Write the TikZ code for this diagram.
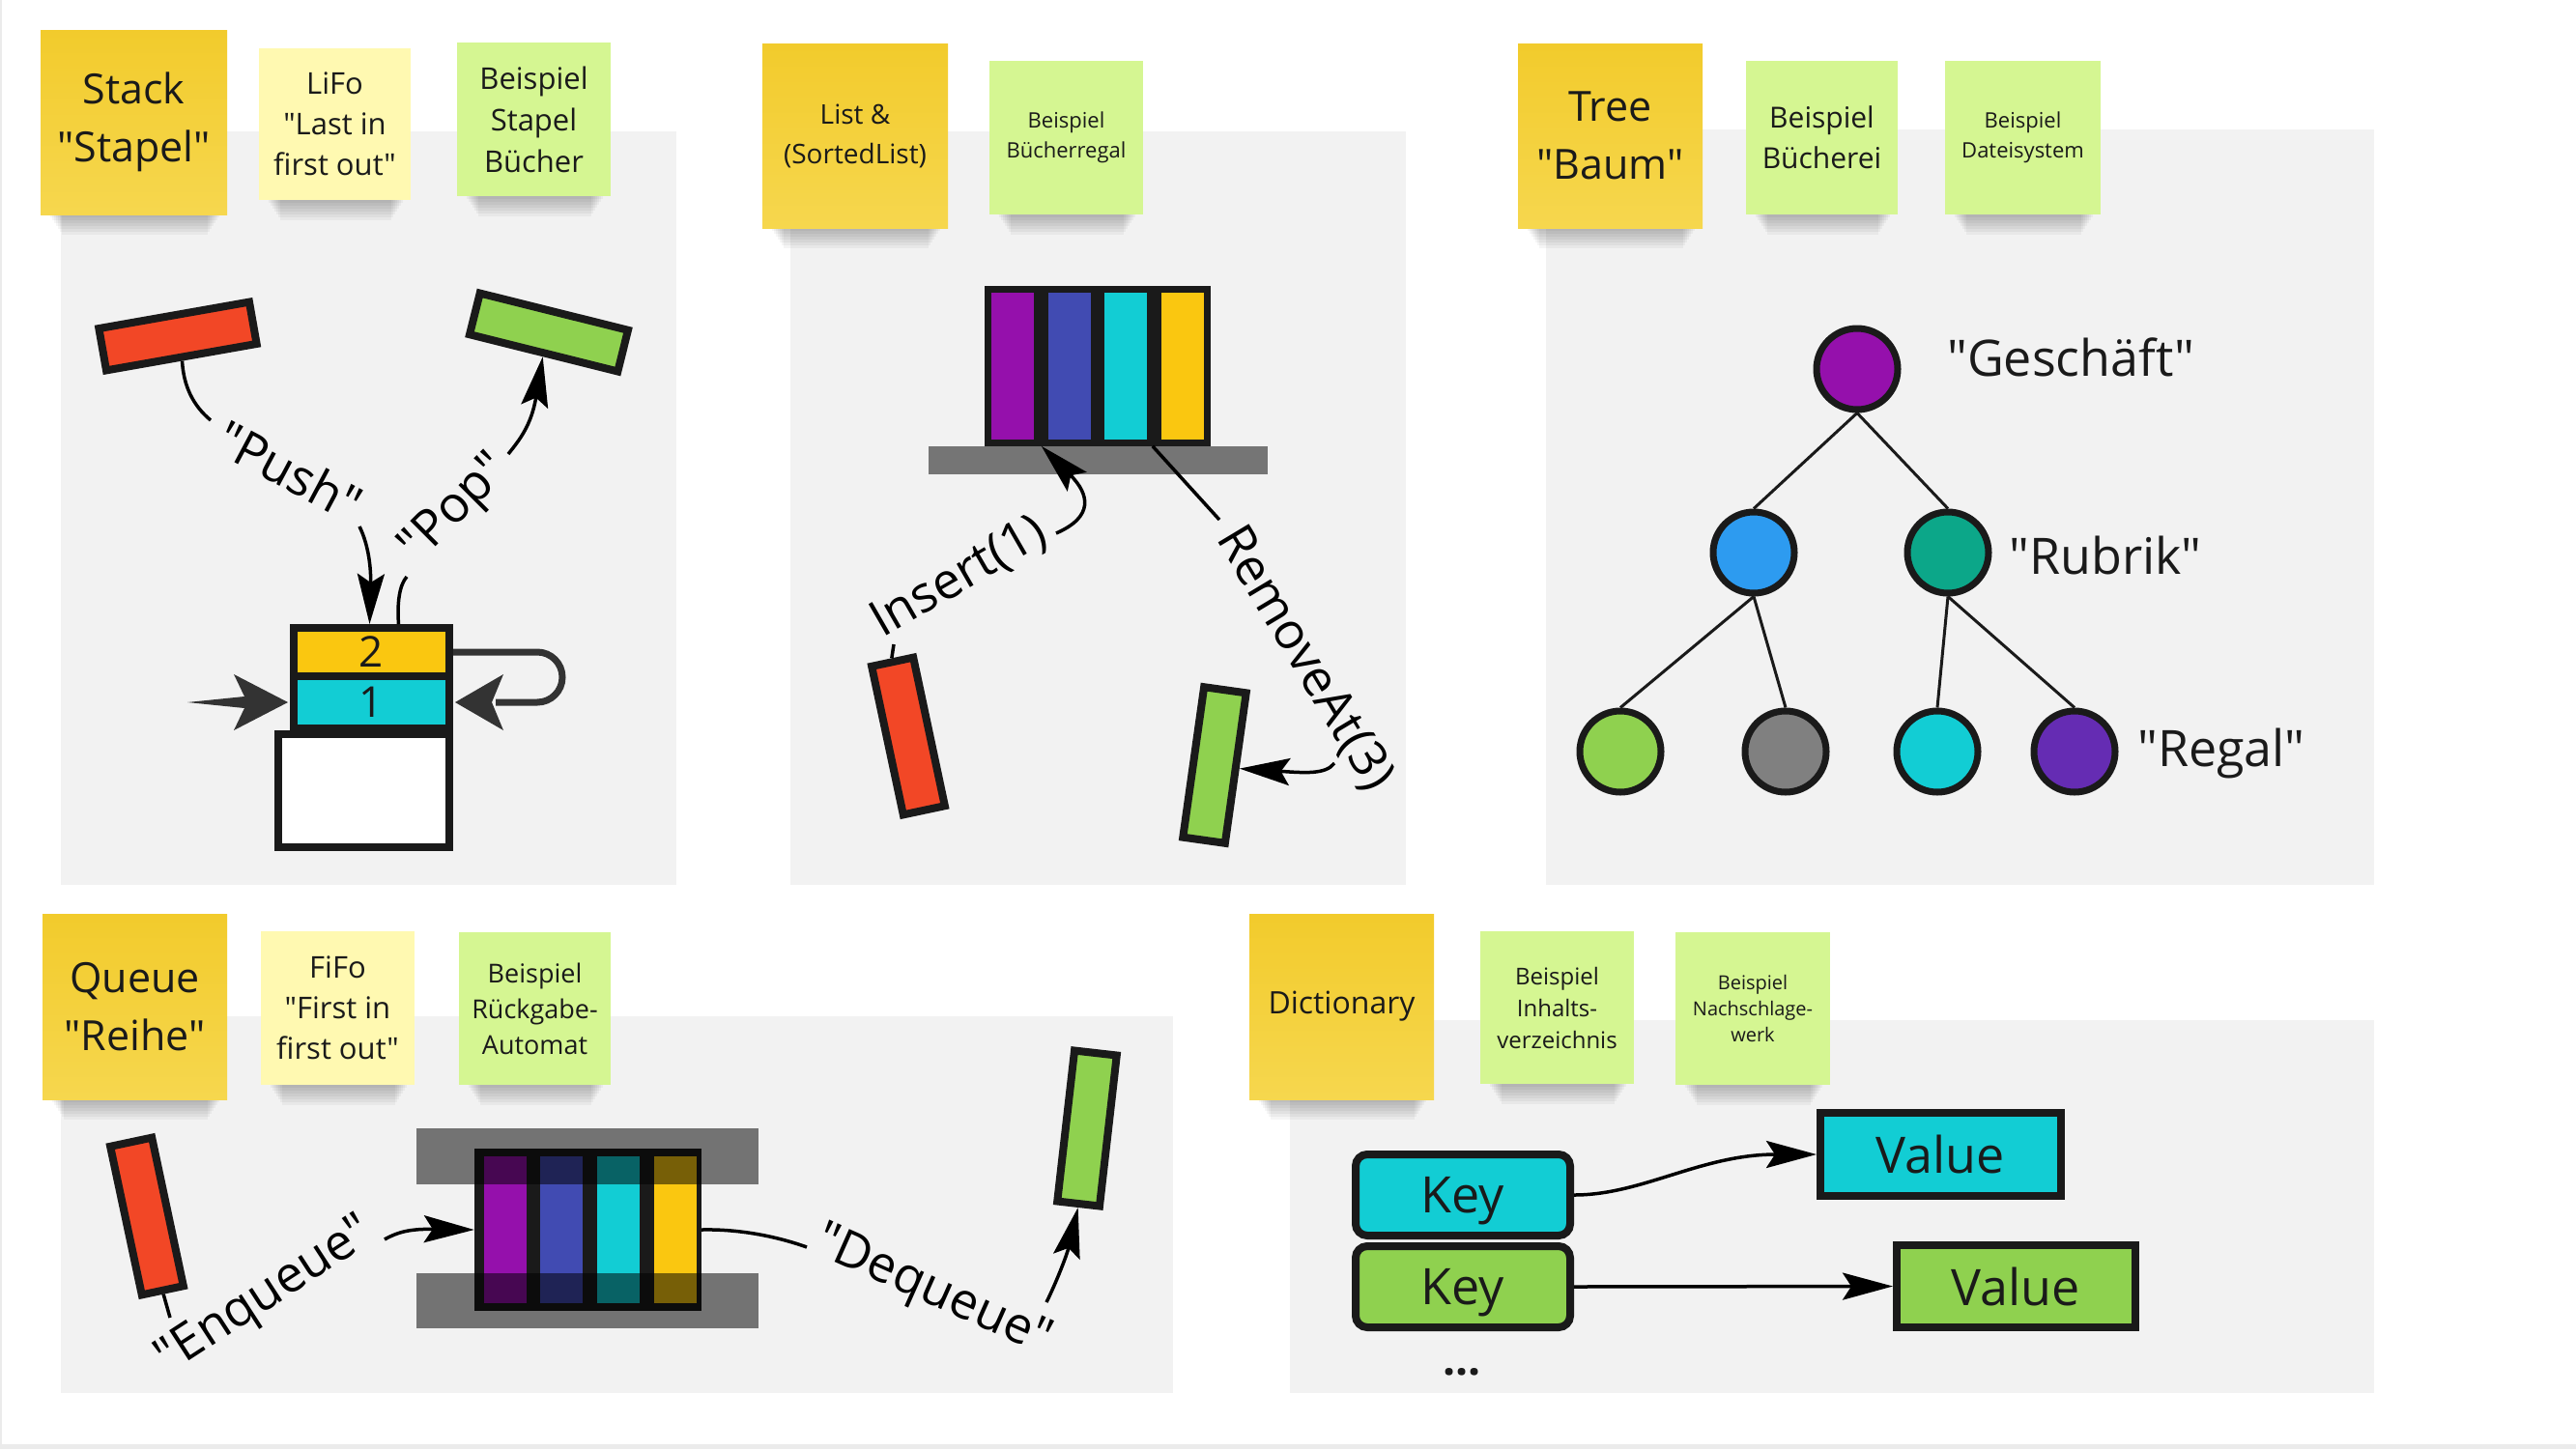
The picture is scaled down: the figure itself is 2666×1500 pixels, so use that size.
\documentclass[tikz,border=0pt]{standalone}
\usepackage{fontspec}
\setmainfont{Open Sans}[Ligatures=TeXOff]
\usetikzlibrary{arrows.meta,calc}
\definecolor{ink}{HTML}{1A1A1A}
\definecolor{panel}{HTML}{F2F2F2}
\definecolor{styeltop}{HTML}{F2CB2C}
\definecolor{styelbot}{HTML}{F6D74E}
\definecolor{stlight}{HTML}{FFF9B1}
\definecolor{stgreen}{HTML}{D5F692}
\definecolor{cred}{HTML}{F24726}
\definecolor{cgreen}{HTML}{8FD14F}
\definecolor{cyel}{HTML}{FAC710}
\definecolor{ccyan}{HTML}{12CDD4}
\definecolor{cpurple}{HTML}{9510AC}
\definecolor{cblue}{HTML}{414BB2}
\definecolor{cteal}{HTML}{0CA789}
\definecolor{cgrey}{HTML}{808080}
\definecolor{cviolet}{HTML}{652CB3}
\definecolor{cazure}{HTML}{2D9BF0}
\definecolor{shelfgrey}{HTML}{757575}
\definecolor{darkarrow}{HTML}{333333}
\definecolor{edgegrey}{HTML}{EBEBEB}
\newcommand{\stickyshadow}[3]{%
  \foreach \i in {1,...,7}{\fill[black,opacity=0.04] ({#1+8+2*\i},{#3-15}) rectangle ({#2-6-2*\i},{#3+3*\i});}}
\tikzset{
  sticky/.style={inner sep=0pt, align=center, text=ink},
  styellow/.style={sticky, top color=styeltop, bottom color=styelbot},
  stly/.style={sticky, fill=stlight},
  stgr/.style={sticky, fill=stgreen},
  vbar/.style={draw=ink, line width=8pt, inner sep=0pt, minimum width=44pt, minimum height=157pt},
  hbar/.style={draw=ink, line width=8pt, inner sep=0pt, minimum width=158pt, minimum height=44pt},
  stbox/.style={draw=ink, line width=8pt, inner sep=0pt, text=ink, text depth=0pt, font=\fontsize{44}{50}\selectfont},
  book/.style={inner sep=0pt, minimum width=44pt, minimum height=152pt},
  tnode/.style={circle, draw=ink, line width=7pt, minimum size=84pt, inner sep=0pt},
  tedge/.style={draw=ink, line width=3pt},
  keybox/.style={draw=ink, line width=8pt, rounded corners=12pt, minimum width=222pt, minimum height=84pt, inner sep=0pt, text=ink, text depth=0pt, font=\fontsize{52}{60}\selectfont},
  valbox/.style={draw=ink, line width=8pt, minimum width=249pt, minimum height=86pt, inner sep=0pt, text=ink, text depth=0pt, font=\fontsize{52}{60}\selectfont},
  lbl/.style={inner sep=0pt, text=black, font=\fontsize{52}{60}\selectfont},
  ln/.style={draw=black, line width=3.5pt},
  arr/.style={draw=black, line width=3.5pt, -{Stealth[length=52pt,width=28pt,inset=9pt]}},
}
\begin{document}
\begin{tikzpicture}[x=1pt,y=-1pt]
\path[use as bounding box] (0,0) rectangle (2666,1500);
\fill[white] (0,0) rectangle (2666,1500);
\fill[edgegrey] (0,1495) rectangle (2666,1500);
\fill[edgegrey] (0,0) rectangle (1.5,1495);
% panels
\fill[panel] (63,136) rectangle (700,916);
\fill[panel] (818,136) rectangle (1455,916);
\fill[panel] (1600,134) rectangle (2457,916);
\fill[panel] (63,1052) rectangle (1214,1442);
\fill[panel] (1335,1056) rectangle (2457,1442);
% shadows
\stickyshadow{42}{235}{222}
\stickyshadow{268}{425}{207}
\stickyshadow{473}{632}{203}
\stickyshadow{789}{981}{236}
\stickyshadow{1024}{1183}{222}
\stickyshadow{1571}{1762}{236}
\stickyshadow{1807}{1964}{222}
\stickyshadow{2013}{2174}{222}
\stickyshadow{44}{235}{1138}
\stickyshadow{270}{429}{1123}
\stickyshadow{475}{632}{1123}
\stickyshadow{1293}{1484}{1138}
\stickyshadow{1532}{1691}{1122}
\stickyshadow{1734}{1894}{1123}
% stickies
\node[styellow, minimum width=193pt, minimum height=191pt, font=\fontsize{43}{60}\selectfont] (nstack) at (138.5,126.5) {Stack\\"Stapel"};
\node[stly, minimum width=157pt, minimum height=157pt, font=\fontsize{31}{42}\selectfont] (nlifo) at (346.5,128.5) {LiFo\\"Last in\\first out"};
\node[stgr, minimum width=159pt, minimum height=159pt, font=\fontsize{31}{43}\selectfont] (nbsp1) at (552.5,123.5) {Beispiel\\Stapel\\Bücher};
\node[styellow, minimum width=192pt, minimum height=191pt, font=\fontsize{28}{41}\selectfont] (nlist) at (885,140.5) {List \&\\(SortedList)};
\node[stgr, minimum width=159pt, minimum height=159pt, font=\fontsize{22}{31}\selectfont] (nbsp2) at (1103.5,142.5) {Beispiel\\Bücherregal};
\node[styellow, minimum width=191pt, minimum height=191pt, font=\fontsize{43}{60}\selectfont] (ntree) at (1666.5,140.5) {Tree\\"Baum"};
\node[stgr, minimum width=157pt, minimum height=159pt, font=\fontsize{30}{42}\selectfont] (nbsp3) at (1885.5,142.5) {Beispiel\\Bücherei};
\node[stgr, minimum width=161pt, minimum height=159pt, font=\fontsize{22}{31}\selectfont] (nbsp4) at (2093.5,142.5) {Beispiel\\Dateisystem};
\node[styellow, minimum width=191pt, minimum height=192pt, font=\fontsize{43}{60}\selectfont] (nqueue) at (139.5,1042) {Queue\\"Reihe"};
\node[stly, minimum width=159pt, minimum height=159pt, font=\fontsize{31}{42}\selectfont] (nfifo) at (349.5,1043.5) {FiFo\\"First in\\first out"};
\node[stgr, minimum width=157pt, minimum height=158pt, font=\fontsize{27}{37}\selectfont] (nbsp5) at (553.5,1044) {Beispiel\\Rückgabe-\\Automat};
\node[styellow, minimum width=191pt, minimum height=192pt, font=\fontsize{32}{42}\selectfont] (ndict) at (1388.5,1042) {Dictionary};
\node[stgr, minimum width=159pt, minimum height=158pt, font=\fontsize{24}{33}\selectfont] (nbsp6) at (1611.5,1043) {Beispiel\\Inhalts-\\verzeichnis};
\node[stgr, minimum width=160pt, minimum height=158pt, font=\fontsize{20}{27}\selectfont] (nbsp7) at (1814,1044) {Beispiel\\Nachschlage-\\werk};

% ===== Stack =====
\node[hbar, fill=cred, rotate=10] (pushbar) at (184,348) {};
\node[hbar, fill=cgreen, rotate=-14] (popbar) at (568,344) {};
\node[stbox, fill=cyel, minimum width=161pt, minimum height=50pt] (s2) at (384.5,675) {2};
\node[stbox, fill=ccyan, minimum width=161pt, minimum height=54pt] (s1) at (384.5,727) {1};
\node[stbox, fill=white, minimum width=177pt, minimum height=117pt] (s0) at (376.5,818) {};
\fill[darkarrow, shift={(s1.west)}] (-2,0) -- (-58,-29) -- (-47,-6) -- (-106,0) -- (-47,6) -- (-58,29) -- cycle;
\draw[darkarrow, line width=7pt, rounded corners=26pt] (s2.east) -- ($(s2.east)+(113,0)$) -- ($(s1.east)+(113,0)$) -- ($(s1.east)+(44,0)$);
\fill[darkarrow, shift={(s1.east)}] (2,0) -- (52,-29) -- (40,0) -- (52,29) -- cycle;
\coordinate (pushA) at (218,435);
\coordinate (pushB) at (372,545);
\draw[ln] (pushbar.south) .. controls (190,400) and (200,420) .. (pushA);
\node[lbl, rotate=-28] (pushlbl) at (300,487) {"Push"};
\draw[arr] (pushB) .. controls (382,565) and (384,590) .. ($(s2.north)+(-2,0)$);
\coordinate (popA) at (421,597);
\coordinate (popB) at (526,470);
\draw[ln] ($(s2.north)+(28,0)$) .. controls (411,625) and (413,606) .. (popA);
\node[lbl, rotate=45] (poplbl) at (472,528) {"Pop"};
\draw[arr] (popB) .. controls (538,455) and (550,440) .. (popbar.south);

% ===== List =====
\node[fill=ink, inner sep=0pt, minimum width=234pt, minimum height=166pt] (lframe) at (1136,379) {};
\node[book, fill=cpurple] (lb1) at (1048,379) {};
\node[book, fill=cblue] (lb2) at (1107,379) {};
\node[book, fill=ccyan] (lb3) at (1165,379) {};
\node[book, fill=cyel] (lb4) at (1224,379) {};
\node[fill=shelfgrey, inner sep=0pt, minimum width=351pt, minimum height=29pt] (shelf) at (1136.5,476.5) {};
\node[vbar, fill=cred, rotate=12] (insbar) at (940,762) {};
\node[vbar, fill=cgreen, rotate=-8] (rembar) at (1257,792) {};
\coordinate (insA) at (925,667);
\coordinate (insB) at (1093,552);
\draw[ln] (insbar.north) -- (insA);
\node[lbl, rotate=30] (inslbl) at (993,598) {Insert(1)};
\draw[arr] (insB) .. controls (1132,535) and (1128,512) .. ($(shelf.north west)+(117,0)$);
\coordinate (remA) at (1262,538);
\coordinate (remB) at (1381,790);
\draw[ln] ($(shelf.north west)+(232,0)$) -- (remA);
\node[lbl, rotate=-59] (remlbl) at (1350,682) {RemoveAt(3)};
\draw[arr] (remB) .. controls (1372,802) and (1350,800) .. (rembar.east);

% ===== Tree =====
\node[tnode, fill=cpurple] (t0) at (1922,382) {};
\node[tnode, fill=cazure] (t1) at (1815,572) {};
\node[tnode, fill=cteal] (t2) at (2016,572) {};
\node[tnode, fill=cgreen] (t11) at (1677,778) {};
\node[tnode, fill=cgrey] (t12) at (1848,778) {};
\node[tnode, fill=ccyan] (t21) at (2005,778) {};
\node[tnode, fill=cviolet] (t22) at (2147,778) {};
\draw[tedge] (t0.south) -- (t1.north);
\draw[tedge] (t0.south) -- (t2.north);
\draw[tedge] (t1.south) -- (t11.north);
\draw[tedge] (t1.south) -- (t12.north);
\draw[tedge] (t2.south) -- (t21.north);
\draw[tedge] (t2.south) -- (t22.north);
\node[lbl, anchor=west, text=ink] (lgesch) at (2015,370) {"Geschäft"};
\node[lbl, anchor=west, text=ink] (lrubrik) at (2079,575) {"Rubrik"};
\node[lbl, anchor=west, text=ink] (lregal) at (2212,780) {"Regal"};

% ===== Queue =====
\node[fill=ink, inner sep=0pt, minimum width=235pt, minimum height=168pt] (qframe) at (608.5,1273) {};
\node[book, fill=cpurple] (qb1) at (523,1273) {};
\node[book, fill=cblue] (qb2) at (581,1273) {};
\node[book, fill=ccyan] (qb3) at (639.5,1273) {};
\node[book, fill=cyel] (qb4) at (698.5,1273) {};
\fill[black, opacity=0.52] (431,1168) rectangle (785,1226);
\fill[black, opacity=0.52] (431,1318) rectangle (785,1375);
\node[vbar, fill=cred, rotate=12] (enqbar) at (152,1259) {};
\node[vbar, fill=cgreen, rotate=-6.5] (deqbar) at (1125,1168) {};
\coordinate (enqA) at (176,1364);
\coordinate (enqB) at (398,1283);
\draw[ln] (enqbar.south) -- (enqA);
\node[lbl, rotate=33] (enqlbl) at (275,1343) {"Enqueue"};
\draw[arr] (enqB) .. controls (412,1275) and (425,1272) .. (qframe.west);
\coordinate (deqA) at (835,1291);
\coordinate (deqB) at (1083,1348);
\draw[ln] (qframe.east) .. controls (770,1272) and (810,1282) .. (deqA);
\node[lbl, rotate=-24] (deqlbl) at (965,1338) {"Dequeue"};
\draw[arr] (deqB) .. controls (1092,1330) and (1104,1300) .. (deqbar.south);

% ===== Dictionary =====
\node[keybox, fill=ccyan] (k1) at (1514,1237) {Key};
\node[keybox, fill=cgreen] (k2) at (1514,1332) {Key};
\node[valbox, fill=ccyan] (v1) at (2008.5,1195) {Value};
\node[valbox, fill=cgreen, minimum width=247pt, minimum height=85pt] (v2) at (2086.5,1331.5) {Value};
\draw[arr] (k1.east) .. controls (1700,1237) and (1760,1195) .. (v1.west);
\draw[arr] (k2.east) -- (v2.west);
\node[inner sep=0pt, text=ink, font=\fontsize{46}{50}\selectfont\bfseries] (dots) at (1513,1420) {...};
\end{tikzpicture}
\end{document}
